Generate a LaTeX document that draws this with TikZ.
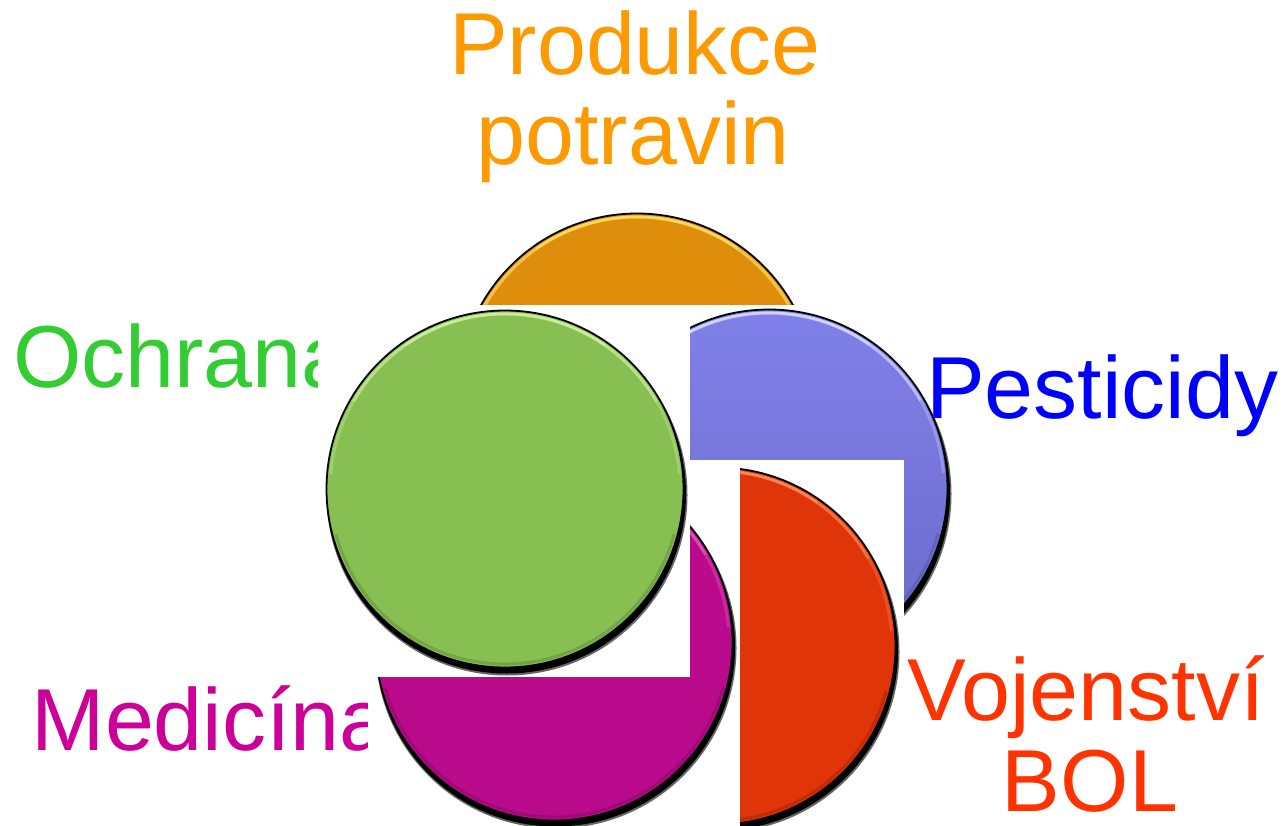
\documentclass[tikz,border=0pt]{standalone}
\usepackage{fontspec}
\setmainfont{Liberation Sans}
\definecolor{cOrange}{RGB}{223,142,12}
\definecolor{cOrangeH}{RGB}{255,230,110}
\definecolor{cGreen}{RGB}{136,191,82}
\definecolor{cGreenH}{RGB}{215,245,170}
\definecolor{cBlueT}{RGB}{128,128,234}
\definecolor{cBlueB}{RGB}{106,106,200}
\definecolor{cBlue}{RGB}{122,122,226}
\definecolor{cBlueH}{RGB}{225,225,255}
\definecolor{cMag}{RGB}{186,11,140}
\definecolor{cMagH}{RGB}{235,120,205}
\definecolor{cRed}{RGB}{224,52,9}
\definecolor{cRedH}{RGB}{255,150,100}
\definecolor{tOrange}{RGB}{255,153,0}
\definecolor{tGreen}{RGB}{51,204,51}
\definecolor{tBlue}{RGB}{0,0,255}
\definecolor{tMag}{RGB}{204,0,153}
\definecolor{tRed}{RGB}{255,51,0}
\tikzset{
  disc/.style={circle, inner sep=0pt, minimum size=357pt, draw=black, line width=1.8pt},
  lbl/.style={inner sep=0pt, font=\fontsize{88}{90}\selectfont},
  blank/.style={fill=white},
}
% #1 name, #2 x, #3 y, #4 fill style, #5 base colour, #6 highlight colour
\newcommand\mydisc[6]{%
  \fill[black!60] (#2+2,#3+6) circle[radius=180.5];
  \fill[black] (#2+1.5,#3+5) circle[radius=179.5];
  \node[disc, #4] (#1) at (#2,#3) {};
  \draw[line width=3pt, #6, opacity=0.3] (#1.center) ++(-175:175) arc[start angle=-175, end angle=-5, radius=175];
  \draw[line width=3pt, #6, opacity=0.45] (#1.center) ++(-150:175) arc[start angle=-150, end angle=-30, radius=175];
  \draw[line width=2.5pt, #6, opacity=0.6] (#1.center) ++(-125:175.2) arc[start angle=-125, end angle=-55, radius=175.2];
  \draw[line width=3pt, #5!60!black, opacity=0.35] (#1.center) ++(15:175) arc[start angle=15, end angle=165, radius=175];
}
\begin{document}
\begin{tikzpicture}[x=1pt, y=-1pt]
\useasboundingbox (0,0) rectangle (1284,826);
\fill[white] (0,0) rectangle (1284,826);

% labels partly hidden by the white boxes
\node[lbl, text=tGreen, anchor=base west] (ochrana) at (13,387) {Ochrana};
\node[lbl, text=tMag, anchor=base west] (medicina) at (31.5,750) {Medicína};

% orange
\mydisc{orange}{637}{392}{fill=cOrange}{cOrange}{cOrangeH}
% blue with its white box
\fill[blank] (586,305) rectangle (952,675);
\mydisc{blue}{769}{488}{top color=cBlueT, bottom color=cBlueB}{cBlue}{cBlueH}
% red with its white box
\fill[blank] (536,460) rectangle (904,826);
\mydisc{red}{717}{646}{fill=cRed}{cRed}{cRedH}
% magenta with its white box
\fill[blank] (368,460) rectangle (740,826);
\mydisc{magenta}{554}{642}{fill=cMag}{cMag}{cMagH}
% green with its white box
\fill[blank] (318,305) rectangle (690,677);
\mydisc{green}{505}{489}{fill=cGreen}{cGreen}{cGreenH}

% labels on top
\node[lbl, text=tOrange, anchor=base] (prod1) at (635,75) {Produkce};
\node[lbl, text=tOrange, anchor=base] (prod2) at (633,165) {potravin};
\node[lbl, text=tBlue, anchor=base west] (pest) at (926,418) {Pesticidy};
\node[lbl, text=tRed, anchor=base] (voj1) at (1086,720) {Vojenství};
\node[lbl, text=tRed, anchor=base] (voj2) at (1090,811) {BOL};
\end{tikzpicture}
\end{document}
